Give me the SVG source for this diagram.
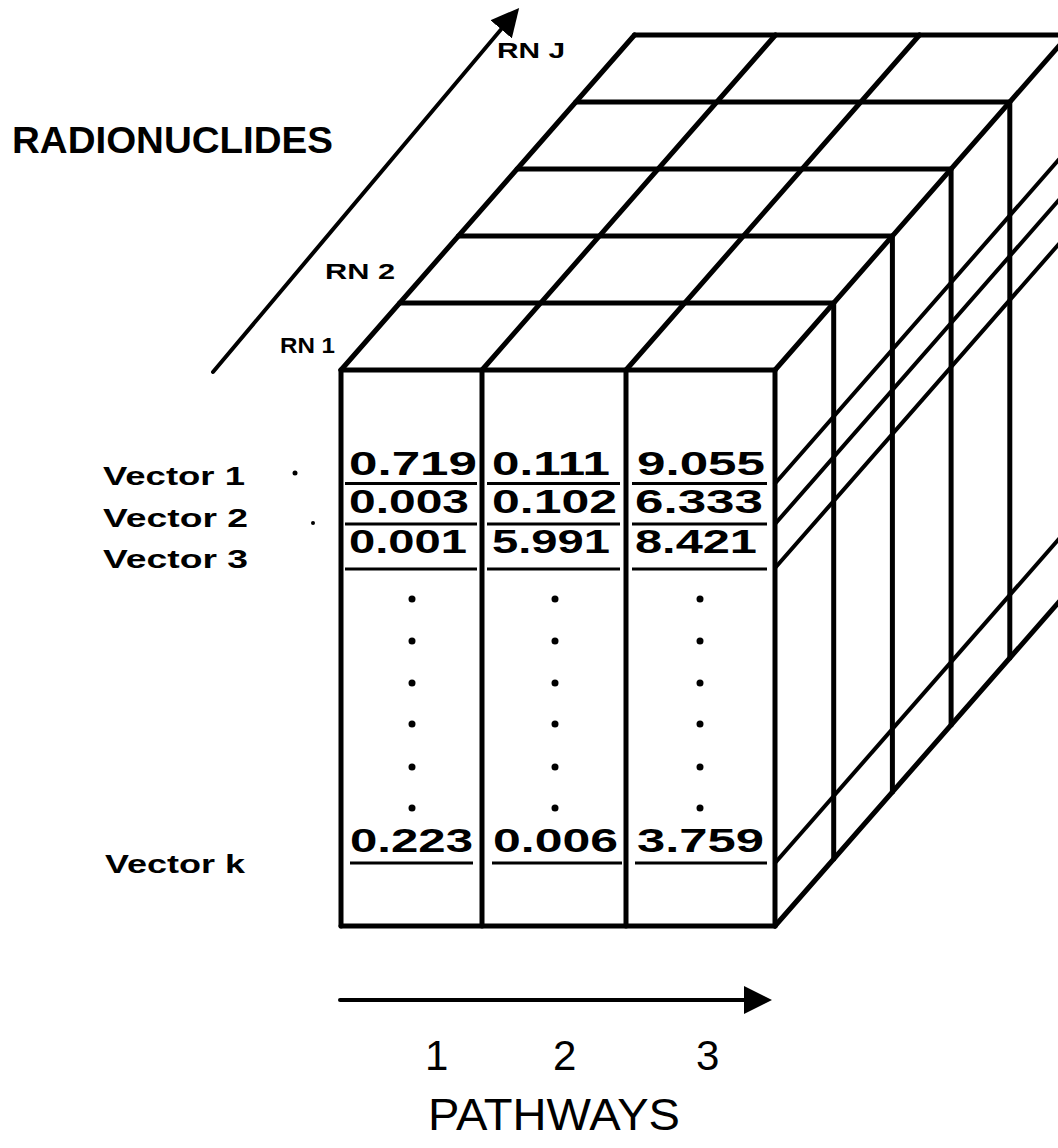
<svg xmlns="http://www.w3.org/2000/svg" width="1058" height="1148" viewBox="0 0 1058 1148">
<style>
.ln{stroke:#000;stroke-width:5;fill:none;stroke-linecap:round}
.th{stroke:#000;stroke-width:4;fill:none;stroke-linecap:round}
.ul{stroke:#000;stroke-width:3;fill:none}
.lab{font-family:"Liberation Sans",Arial,sans-serif;font-weight:bold;fill:#000}
.num{font-family:"Liberation Sans",Arial,sans-serif;font-weight:bold;font-size:33px;fill:#000}
.thin{font-family:"Liberation Sans",Arial,sans-serif;fill:#000}
.dot{fill:#000}
</style>
<defs>
<marker id="ah" markerWidth="7" markerHeight="7" refX="5" refY="3.5" orient="auto" markerUnits="strokeWidth">
<path d="M0,0 L7,3.5 L0,7 Z" fill="#000"/>
</marker>
</defs>
<rect width="1058" height="1148" fill="#fff"/>

<g id="connectors">
<line class="th" x1="213" y1="372" x2="514" y2="14" marker-end="url(#ah)"/>
<line class="th" x1="340" y1="1000" x2="764" y2="1000" marker-end="url(#ah)"/>
</g>

<g id="cube">
<line class="ln" x1="341" y1="370" x2="775" y2="370"/>
<line class="ln" x1="399.7" y1="303" x2="833.7" y2="303"/>
<line class="ln" x1="458.4" y1="236" x2="892.4" y2="236"/>
<line class="ln" x1="517.1" y1="169" x2="951.1" y2="169"/>
<line class="ln" x1="575.8" y1="102" x2="1009.8" y2="102"/>
<line class="ln" x1="634.5" y1="35" x2="1068.5" y2="35"/>
<line class="ln" x1="341" y1="370" x2="634.5" y2="35"/>
<line class="ln" x1="482" y1="370" x2="775.5" y2="35"/>
<line class="ln" x1="626" y1="370" x2="919.5" y2="35"/>
<line class="ln" x1="775" y1="370" x2="1068.5" y2="35"/>
<line class="ln" x1="341" y1="370" x2="341" y2="926"/>
<line class="ln" x1="482" y1="370" x2="482" y2="926"/>
<line class="ln" x1="626" y1="370" x2="626" y2="926"/>
<line class="ln" x1="775" y1="370" x2="775" y2="926"/>
<line class="ln" x1="341" y1="926" x2="775" y2="926"/>
<line class="ln" x1="833.7" y1="303" x2="833.7" y2="859"/>
<line class="ln" x1="892.4" y1="236" x2="892.4" y2="792"/>
<line class="ln" x1="951.1" y1="169" x2="951.1" y2="725"/>
<line class="ln" x1="1009.8" y1="102" x2="1009.8" y2="658"/>
<line class="th" x1="775" y1="483.5" x2="1068.5" y2="148.5"/>
<line class="th" x1="775" y1="524" x2="1068.5" y2="189"/>
<line class="th" x1="775" y1="568" x2="1068.5" y2="233"/>
<line class="th" x1="775" y1="863" x2="1068.5" y2="528"/>
<line class="ln" x1="775" y1="926" x2="1068.5" y2="591"/>
</g>

<g id="table">
<g class="ul">
<line x1="345" y1="483.5" x2="477" y2="483.5"/><line x1="487" y1="483.5" x2="620" y2="483.5"/><line x1="632" y1="483.5" x2="767" y2="483.5"/>
<line x1="345" y1="524" x2="477" y2="524"/><line x1="487" y1="524" x2="620" y2="524"/><line x1="632" y1="524" x2="767" y2="524"/>
<line x1="345" y1="569" x2="477" y2="569"/><line x1="487" y1="569" x2="620" y2="569"/><line x1="632" y1="569" x2="767" y2="569"/>
<line x1="350" y1="863" x2="473" y2="863"/><line x1="492" y1="863" x2="622" y2="863"/><line x1="635" y1="863" x2="767" y2="863"/>
</g>
<text class="num" x="349" y="475" textLength="128" lengthAdjust="spacingAndGlyphs">0.719</text>
<text class="num" x="492" y="475" textLength="118" lengthAdjust="spacingAndGlyphs">0.111</text>
<text class="num" x="637" y="475" textLength="128" lengthAdjust="spacingAndGlyphs">9.055</text>
<text class="num" x="349" y="513" textLength="120" lengthAdjust="spacingAndGlyphs">0.003</text>
<text class="num" x="492" y="513" textLength="125" lengthAdjust="spacingAndGlyphs">0.102</text>
<text class="num" x="635" y="513" textLength="128" lengthAdjust="spacingAndGlyphs">6.333</text>
<text class="num" x="349" y="553" textLength="118" lengthAdjust="spacingAndGlyphs">0.001</text>
<text class="num" x="492" y="553" textLength="118" lengthAdjust="spacingAndGlyphs">5.991</text>
<text class="num" x="635" y="553" textLength="122" lengthAdjust="spacingAndGlyphs">8.421</text>
<text class="num" x="350" y="852" textLength="123" lengthAdjust="spacingAndGlyphs">0.223</text>
<text class="num" x="493" y="852" textLength="125" lengthAdjust="spacingAndGlyphs">0.006</text>
<text class="num" x="637" y="852" textLength="127" lengthAdjust="spacingAndGlyphs">3.759</text>
<g class="dot">
<circle cx="412" cy="599" r="3.5"/><circle cx="555" cy="599" r="3.5"/><circle cx="700" cy="599" r="3.5"/>
<circle cx="412" cy="641" r="3.5"/><circle cx="555" cy="641" r="3.5"/><circle cx="700" cy="641" r="3.5"/>
<circle cx="412" cy="683" r="3.5"/><circle cx="555" cy="683" r="3.5"/><circle cx="700" cy="683" r="3.5"/>
<circle cx="412" cy="724" r="3.5"/><circle cx="555" cy="724" r="3.5"/><circle cx="700" cy="724" r="3.5"/>
<circle cx="412" cy="767" r="3.5"/><circle cx="555" cy="767" r="3.5"/><circle cx="700" cy="767" r="3.5"/>
<circle cx="412" cy="808" r="3.5"/><circle cx="555" cy="808" r="3.5"/><circle cx="700" cy="808" r="3.5"/>
</g>
</g>

<g id="labels">
<text class="lab" x="12" y="153" font-size="36" textLength="321" lengthAdjust="spacingAndGlyphs">RADIONUCLIDES</text>
<text class="lab" x="497" y="58" font-size="22" textLength="68" lengthAdjust="spacingAndGlyphs">RN J</text>
<text class="lab" x="325" y="279" font-size="22" textLength="70" lengthAdjust="spacingAndGlyphs">RN 2</text>
<text class="lab" x="280" y="353" font-size="22" textLength="55" lengthAdjust="spacingAndGlyphs">RN 1</text>
<text class="lab" x="103" y="485" font-size="25" textLength="142" lengthAdjust="spacingAndGlyphs">Vector  1</text>
<text class="lab" x="103" y="527" font-size="25" textLength="145" lengthAdjust="spacingAndGlyphs">Vector  2</text>
<text class="lab" x="103" y="568" font-size="25" textLength="145" lengthAdjust="spacingAndGlyphs">Vector  3</text>
<text class="lab" x="105" y="873" font-size="25" textLength="140" lengthAdjust="spacingAndGlyphs">Vector  k</text>
<text class="thin" x="425" y="1070" font-size="42">1</text>
<text class="thin" x="553" y="1070" font-size="42">2</text>
<text class="thin" x="696" y="1070" font-size="42">3</text>
<text class="thin" x="428" y="1130" font-size="44" textLength="252" lengthAdjust="spacingAndGlyphs">PATHWAYS</text>
<circle class="dot" cx="295" cy="473" r="2.5"/>
<circle class="dot" cx="313" cy="523" r="2"/>
</g>
</svg>
